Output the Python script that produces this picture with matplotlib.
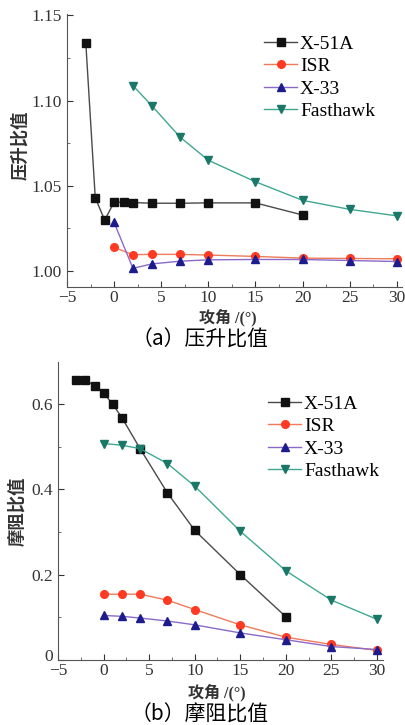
import matplotlib
matplotlib.use('Agg')
from matplotlib import pyplot as plt
from matplotlib import transforms

plt.rcParams['font.family'] = ['Liberation Serif', 'Noto Sans CJK SC']

# (a) lift ratio vs angle of attack
x51a_lift_aoa = [-3, -2, -1, 0, 1, 2, 4, 7, 10, 15, 20]
x51a_lift = [1.1335, 1.0430, 1.0299, 1.0404, 1.0404, 1.0402, 1.0398, 1.0398, 1.0400, 1.0400, 1.0329]
isr_lift_aoa = [0, 2, 4, 7, 10, 15, 20, 25, 30]
isr_lift = [1.0139, 1.0096, 1.0098, 1.0098, 1.0094, 1.0086, 1.0076, 1.0074, 1.0072]
x33_lift_aoa = [0, 2, 4, 7, 10, 15, 20, 25, 30]
x33_lift = [1.0285, 1.0016, 1.0042, 1.0058, 1.0066, 1.0068, 1.0068, 1.0062, 1.0056]
fast_lift_aoa = [2, 4, 7, 10, 15, 20, 25, 30]
fast_lift = [1.1088, 1.0970, 1.0786, 1.0650, 1.0524, 1.0415, 1.0362, 1.0324]

# (b) friction ratio vs angle of attack
x51a_fric_aoa = [-3, -2, -1, 0, 1, 2, 4, 7, 10, 15, 20]
x51a_fric = [0.657, 0.657, 0.644, 0.627, 0.600, 0.569, 0.496, 0.392, 0.304, 0.200, 0.101]
isr_fric_aoa = [0, 2, 4, 7, 10, 15, 20, 25, 30]
isr_fric = [0.154, 0.154, 0.154, 0.140, 0.118, 0.082, 0.053, 0.036, 0.022]
x33_fric_aoa = [0, 2, 4, 7, 10, 15, 20, 25, 30]
x33_fric = [0.104, 0.102, 0.098, 0.091, 0.082, 0.063, 0.047, 0.031, 0.024]
fast_fric_aoa = [0, 2, 4, 7, 10, 15, 20, 25, 30]
fast_fric = [0.508, 0.504, 0.496, 0.461, 0.408, 0.302, 0.209, 0.140, 0.095]

names = ['X-51A', 'ISR', 'X-33', 'Fasthawk']
styles = [
    dict(marker='s', color='#4a4a4a', mfc='#111111', mec='#111111'),
    dict(marker='o', color='#f07a5a', mfc='#ff3a22', mec='#ff3a22'),
    dict(marker='^', color='#8a6ac8', mfc='#1c1c8c', mec='#1c1c8c'),
    dict(marker='v', color='#40a890', mfc='#1a7868', mec='#1a7868'),
]

fig = plt.figure(figsize=(4.06, 7.25), dpi=100)
ax1 = fig.add_axes([0.165, 0.604, 0.825, 0.376])
ax2 = fig.add_axes([0.143, 0.090, 0.800, 0.411])


def draw(ax, series):
    for (xs, ys), name, st in zip(series, names, styles):
        ax.plot(xs, ys, lw=1.0, ms=5.5, label=name, **st)
    for side in ['top', 'right']:
        ax.spines[side].set_visible(False)
    for side in ['left', 'bottom']:
        ax.spines[side].set_color('#555555')
    ax.tick_params(direction='in', labelsize=12.5, colors='#333333', length=4)
    ax.tick_params(axis='x', pad=2)
    ax.tick_params(which='minor', direction='in', length=2.5, colors='#555555')
    ax.set_xticks(range(-5, 31, 5))
    ax.set_xticks([x + 2.5 for x in range(-5, 30, 5)], minor=True)


def legend(ax, x, y):
    ax.legend(loc='upper left', bbox_to_anchor=(x / 406, 1 - y / 725), bbox_transform=fig.transFigure,
              frameon=False, fontsize=14, handlelength=1.7, handletextpad=0.15,
              labelspacing=0.25, borderaxespad=0, borderpad=0)


draw(ax1, [(x51a_lift_aoa, x51a_lift), (isr_lift_aoa, isr_lift),
           (x33_lift_aoa, x33_lift), (fast_lift_aoa, fast_lift)])
ax1.set_xlim(-5, 30.55)
ax1.set_ylim(0.9906, 1.1505)
ax1.set_yticks([1.00, 1.05, 1.10, 1.15])
ax1.set_yticks([1.025, 1.075, 1.125], minor=True)
ax1.set_yticklabels(['1.00', '1.05', '1.10', '1.15'])
legend(ax1, 264, 35)

draw(ax2, [(x51a_fric_aoa, x51a_fric), (isr_fric_aoa, isr_fric),
           (x33_fric_aoa, x33_fric), (fast_fric_aoa, fast_fric)])
ax2.set_xlim(-5, 30.65)
ax2.set_ylim(0, 0.70)
ax2.set_yticks([0, 0.2, 0.4, 0.6])
ax2.set_yticks([0.1, 0.3, 0.5], minor=True)
ax2.set_yticklabels(['0', '0.2', '0.4', '0.6'])
legend(ax2, 268, 395)

# lift the "0" label slightly so it sits just above the "-5"
zero = ax2.get_yticklabels()[0]
zero.set_transform(zero.get_transform() + transforms.ScaledTranslation(0, 3.5 / 72, fig.dpi_scale_trans))

cjk = ['Noto Sans CJK SC']
mixed = ['Liberation Serif', 'Noto Sans CJK SC']
fig.text(20 / 406, 1 - 145 / 725, '压升比值', rotation=90, ha='center', va='center',
         fontsize=12.5, fontweight='bold', color='#333333', family=cjk)
fig.text(17 / 406, 1 - 511 / 725, '摩阻比值', rotation=90, ha='center', va='center',
         fontsize=12.5, fontweight='bold', color='#333333', family=cjk)
fig.text(228 / 406, 1 - 318 / 725, '攻角 /(°)', ha='center', va='center', fontsize=11.5,
         fontweight='bold', color='#333333', family=mixed)
fig.text(217 / 406, 1 - 693 / 725, '攻角 /(°)', ha='center', va='center', fontsize=11.5,
         fontweight='bold', color='#333333', family=mixed)
fig.text(200 / 406, 1 - 340 / 725, '（a）压升比值', ha='center', va='center', fontsize=15,
         family=cjk)
fig.text(200 / 406, 1 - 715 / 725, '（b）摩阻比值', ha='center', va='center', fontsize=15,
         family=cjk)

fig.savefig('out.png', dpi=100)
